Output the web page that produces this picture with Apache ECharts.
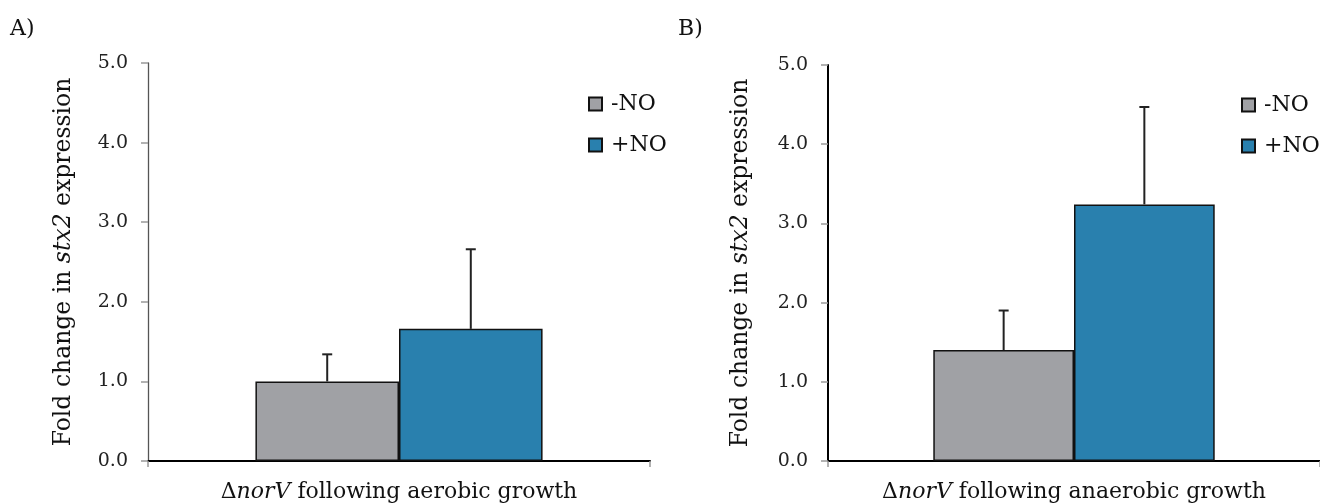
<!DOCTYPE html>
<html>
<head>
<meta charset="utf-8">
<script src="https://cdn.jsdelivr.net/npm/echarts@6/dist/echarts.min.js"></script>
<style>
  html, body { margin: 0; padding: 0; background: #fff; }
  #chart { width: 1320px; height: 503px; }
</style>
</head>
<body>
<div id="chart"></div>
<script>
// data
const seriesNames = ['-NO', '+NO'];
const categoriesA = ['ΔnorV following aerobic growth'];
const categoriesB = ['ΔnorV following anaerobic growth'];
const meanA = [1.0, 1.66];
const errA = [0.34, 1.0];
const meanB = [1.4, 3.24];
const errB = [0.5, 1.23];
const yTicks = [0, 1, 2, 3, 4, 5];

const FONT = 'DejaVu Serif';
const colors = ['#a0a1a5', '#2980ae'];
const barPct = 0.286;

const chart = echarts.init(document.getElementById('chart'));

function catLabel(v) {
    // Δ + italic gene name + rest
    const rest = v.replace('ΔnorV', '');
    return '{n|Δ}{i|norV}{n|' + rest + '}';
}

function yAxis(idx, gap, dark) {
    return {
        type: 'value',
        gridIndex: idx,
        min: yTicks[0],
        max: yTicks[yTicks.length - 1],
        interval: 1,
        name: '{n|Fold change in }{i|stx2}{n| expression}',
        nameLocation: 'middle',
        nameRotate: 90,
        nameGap: gap,
        nameTextStyle: {
            rich: {
                n: { fontFamily: FONT, fontSize: 23.5, color: '#111' },
                i: { fontFamily: FONT, fontSize: 23.5, color: '#111', fontStyle: 'italic' }
            }
        },
        axisLine: { show: true, lineStyle: { color: dark ? '#000' : '#555', width: dark ? 2 : 1.3 } },
        axisTick: { show: true, length: 7, lineStyle: { color: '#999', width: 1.5 } },
        axisLabel: {
            margin: 20,
            fontFamily: FONT,
            fontSize: 19,
            color: '#222',
            formatter: v => v.toFixed(1)
        },
        splitLine: { show: false }
    };
}

function xAxis(idx, cats) {
    return {
        type: 'category',
        gridIndex: idx,
        data: cats,
        axisLine: { show: true, lineStyle: { color: '#000', width: 2 } },
        axisTick: { show: true, length: 6, lineStyle: { color: '#999', width: 1.5 } },
        axisLabel: {
            margin: 20,
            formatter: catLabel,
            rich: {
                n: { fontFamily: FONT, fontSize: 22, color: '#111' },
                i: { fontFamily: FONT, fontSize: 22, color: '#111', fontStyle: 'italic' }
            }
        }
    };
}

function bars(idx, means) {
    return means.map((m, k) => ({
        name: seriesNames[k],
        type: 'bar',
        xAxisIndex: idx,
        yAxisIndex: idx,
        data: [m],
        barWidth: (barPct * 100) + '%',
        barGap: '0%',
        itemStyle: { color: colors[k], borderColor: '#111', borderWidth: 1.5 }
    }));
}

function errBars(idx, means, errs) {
    return means.map((m, k) => ({
        type: 'custom',
        xAxisIndex: idx,
        yAxisIndex: idx,
        z: 5,
        silent: true,
        data: [[0, m, errs[k]]],
        renderItem: function (params, api) {
            const base = api.coord([api.value(0), api.value(1)]);
            const top = api.coord([api.value(0), api.value(1) + api.value(2)]);
            const bw = api.size([1, 0])[0] * barPct;
            const x = base[0] + (k === 0 ? -1 : 1) * bw / 2;
            const st = { stroke: '#222', lineWidth: 2 };
            return {
                type: 'group',
                children: [
                    { type: 'line', shape: { x1: x, y1: base[1], x2: x, y2: top[1] }, style: st },
                    { type: 'line', shape: { x1: x - 5, y1: top[1], x2: x + 5, y2: top[1] }, style: st }
                ]
            };
        }
    }));
}

function legend(left, top) {
    return {
        data: seriesNames,
        orient: 'vertical',
        left: left,
        top: top,
        icon: 'rect',
        itemWidth: 13,
        itemHeight: 13,
        itemGap: 19,
        selectedMode: false,
        textStyle: { fontFamily: FONT, fontSize: 22, color: '#111', padding: [0, 0, 0, 4] }
    };
}

chart.setOption({
    animation: false,
    textStyle: { fontFamily: FONT },
    title: [
        { text: 'A)', left: 5, top: 13, textStyle: { fontFamily: FONT, fontSize: 22, fontWeight: 'normal', color: '#111' } },
        { text: 'B)', left: 673, top: 13, textStyle: { fontFamily: FONT, fontSize: 22, fontWeight: 'normal', color: '#111' } }
    ],
    legend: [legend(583, 88), legend(1236, 89)],
    grid: [
        { left: 148, top: 63, width: 502, height: 400 },
        { left: 828, top: 65, width: 496, height: 398 }
    ],
    xAxis: [xAxis(0, categoriesA), xAxis(1, categoriesB)],
    yAxis: [yAxis(0, 72, false), yAxis(1, 75, true)],
    series: [].concat(bars(0, meanA), bars(1, meanB), errBars(0, meanA, errA), errBars(1, meanB, errB))
});
</script>
</body>
</html>
